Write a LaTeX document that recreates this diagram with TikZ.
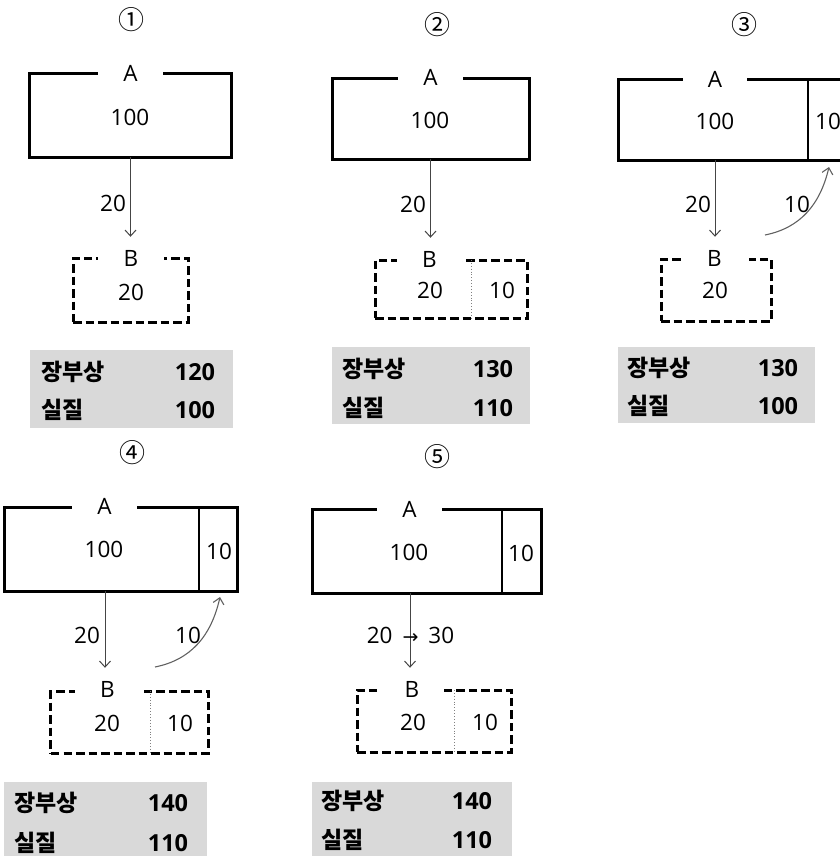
\documentclass[tikz,border=0pt]{standalone}
\usepackage{fontspec}
\setmainfont{Open Sans}
\newfontfamily\krfont{Noto Sans CJK KR}
\newfontfamily\djvfont{DejaVu Sans}
\usetikzlibrary{arrows.meta}
\definecolor{boxgray}{HTML}{D9D9D9}
\definecolor{arrgray}{HTML}{454545}
\begin{document}
\begin{tikzpicture}[x=1bp,y=-1bp,
  txt/.style={inner sep=0pt, font=\fontsize{22.5bp}{26bp}\selectfont},
  circ/.style={inner sep=0pt, font=\krfont\fontsize{26bp}{29bp}\selectfont},
  abox/.style={draw, line width=3bp, inner sep=0pt, outer sep=0pt},
  bbox/.style={draw, line width=3bp, dash pattern=on 8.5bp off 4bp, inner sep=0pt, outer sep=0pt},
  lab/.style={txt, fill=white, minimum height=14bp},
  gbox/.style={fill=boxgray, inner sep=0pt, outer sep=0pt},
  krb/.style={inner sep=0pt, anchor=west, font=\krfont\bfseries\fontsize{23bp}{27bp}\selectfont},
  numb/.style={inner sep=0pt, font=\bfseries\fontsize{23.5bp}{27bp}\selectfont},
  adiv/.style={line width=1.1bp},
  bdiv/.style={line width=0.9bp, gray, dotted},
  arr/.style={draw=arrgray, line width=1bp, -{Straight Barb[length=6bp,width=11bp]}, shorten >=13bp},
  carr/.style={draw=arrgray!85, line width=1.1bp, -{Straight Barb[length=6bp,width=11bp]}}
]
\useasboundingbox (0,0) rectangle (840,856);
\clip (0,0) rectangle (840,856);

% ---------- Panel 1 ----------
\node[circ] (c1) at (131,20) {①};
\node[abox, minimum width=201bp, minimum height=84bp] (A1) at (130.5,115) {};
\node[lab, minimum width=65bp] (A1l) at (130.5,73) {A};
\node[txt] (A1v) at (130,117) {100};
\node[bbox, minimum width=115bp, minimum height=64bp] (B1) at (130.5,290) {};
\node[lab, minimum width=66bp] (B1l) at (131,258) {B};
\node[txt] (B1v) at (131,292) {20};
\draw[arr] (A1.south) -- (A1.south |- B1l.north);
\node[txt] (t1) at (113,203) {20};
\node[gbox, minimum width=203bp, minimum height=78bp] (G1) at (131.5,389) {};
\node[krb] (G1a) at (41,372) {장부상};
\node[numb] (G1b) at (195,372) {120};
\node[krb] (G1c) at (41,410) {실질};
\node[numb] (G1d) at (195,410) {100};

% ---------- Panel 2 ----------
\node[circ] (c2) at (437,25) {②};
\node[abox, minimum width=197bp, minimum height=81bp] (A2) at (430.5,118.5) {};
\node[lab, minimum width=65bp] (A2l) at (430.5,77) {A};
\node[txt] (A2v) at (430,120) {100};
\node[bbox, minimum width=152bp, minimum height=58bp] (B2) at (451,289) {};
\coordinate (d2) at (471,0);
\draw[bdiv] (B2.north -| d2) -- (B2.south -| d2);
\node[lab, minimum width=65bp] (B2l) at (429.5,259) {B};
\node[txt] (B2v) at (430,290) {20};
\node[txt] (B2w) at (502,290) {10};
\draw[arr] (A2.south) -- (A2.south |- B2l.north);
\node[txt] (t2) at (413,204) {20};
\node[gbox, minimum width=198bp, minimum height=77bp] (G2) at (431,385.5) {};
\node[krb] (G2a) at (342,369) {장부상};
\node[numb] (G2b) at (493,369) {130};
\node[krb] (G2c) at (342,408) {실질};
\node[numb] (G2d) at (493,408) {110};

% ---------- Panel 3 ----------
\node[circ] (c3) at (744,25) {③};
\node[abox, minimum width=232bp, minimum height=81bp] (A3) at (734,119.5) {};
\coordinate (d3) at (808,0);
\draw[adiv] (A3.north -| d3) -- (A3.south -| d3);
\node[lab, minimum width=64bp] (A3l) at (715,79) {A};
\node[txt] (A3v) at (715,121) {100};
\node[txt] (A3w) at (828,121) {10};
\node[bbox, minimum width=110bp, minimum height=62bp] (B3) at (716,290) {};
\node[lab, minimum width=68bp] (B3l) at (714.5,258) {B};
\node[txt] (B3v) at (715,290) {20};
\draw[arr] (A3l |- A3.south) -- (A3l |- B3l.north);
\node[txt] (t3) at (698,204) {20};
\coordinate (s3) at (765,235);
\coordinate (e3) at (829,167);
\draw[carr] (s3) .. controls (800,228) and (820,205) .. (e3);
\node[txt] (u3) at (797,204) {10};
\node[gbox, minimum width=197bp, minimum height=76bp] (G3) at (716.5,385) {};
\node[krb] (G3a) at (627,368) {장부상};
\node[numb] (G3b) at (778,368) {130};
\node[krb] (G3c) at (627,406) {실질};
\node[numb] (G3d) at (778,406) {100};

% ---------- Panel 4 ----------
\node[circ] (c4) at (132,453) {④};
\node[abox, minimum width=232bp, minimum height=84bp] (A4) at (121,549) {};
\coordinate (d4) at (199,0);
\draw[adiv] (A4.north -| d4) -- (A4.south -| d4);
\node[lab, minimum width=65bp] (A4l) at (104.5,506) {A};
\node[txt] (A4v) at (104,549) {100};
\node[txt] (A4w) at (219,551) {10};
\node[bbox, minimum width=157bp, minimum height=62bp] (B4) at (129.5,722) {};
\coordinate (e4d) at (150,0);
\draw[bdiv] (B4.north -| e4d) -- (B4.south -| e4d);
\node[lab, minimum width=65bp] (B4l) at (107.5,689) {B};
\node[txt] (B4v) at (107,723) {20};
\node[txt] (B4w) at (180,723) {10};
\coordinate (a4) at (105,0);
\draw[arr] (A4.south -| a4) -- (B4l.north -| a4);
\node[txt] (t4) at (87,635) {20};
\coordinate (s4) at (155,667);
\coordinate (e4) at (220,597);
\draw[carr] (s4) .. controls (190,660) and (211,637) .. (e4);
\node[txt] (u4) at (188,635) {10};
\node[gbox, minimum width=203bp, minimum height=80bp] (G4) at (105.5,822) {};
\node[krb] (G4a) at (14,803) {장부상};
\node[numb] (G4b) at (168,803) {140};
\node[krb] (G4c) at (14,843) {실질};
\node[numb] (G4d) at (168,843) {110};

% ---------- Panel 5 ----------
\node[circ] (c5) at (437,457) {⑤};
\node[abox, minimum width=229bp, minimum height=84bp] (A5) at (426.5,551) {};
\coordinate (d5) at (502,0);
\draw[adiv] (A5.north -| d5) -- (A5.south -| d5);
\node[lab, minimum width=65bp] (A5l) at (409.5,509) {A};
\node[txt] (A5v) at (409,552) {100};
\node[txt] (A5w) at (521,553) {10};
\node[bbox, minimum width=154bp, minimum height=62bp] (B5) at (434,721) {};
\coordinate (e5d) at (454,0);
\draw[bdiv] (B5.north -| e5d) -- (B5.south -| e5d);
\node[lab, minimum width=64bp] (B5l) at (412,689) {B};
\node[txt] (B5v) at (413,722) {20};
\node[txt] (B5w) at (485,722) {10};
\coordinate (a5) at (410,0);
\draw[arr] (A5.south -| a5) -- (B5l.north -| a5);
\node[txt] (t5) at (410.5,635) {20\hspace{10bp}{\djvfont\fontsize{19bp}{20bp}\selectfont →}\hspace{10bp}30};
\node[gbox, minimum width=200bp, minimum height=78bp] (G5) at (412,821) {};
\node[krb] (G5a) at (321,801) {장부상};
\node[numb] (G5b) at (472,801) {140};
\node[krb] (G5c) at (321,840) {실질};
\node[numb] (G5d) at (472,840) {110};
\end{tikzpicture}
\end{document}
